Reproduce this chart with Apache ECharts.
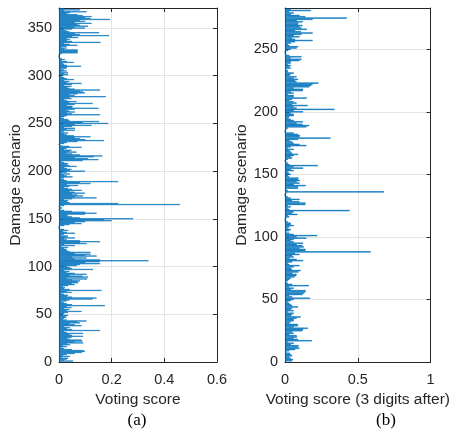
<!DOCTYPE html>
<html><head><meta charset="utf-8">
<script src="https://cdn.jsdelivr.net/npm/echarts@6/dist/echarts.min.js"></script>
<style>html,body{margin:0;padding:0;background:#fff}#c{width:453px;height:433px}</style>
</head><body><div id="c"></div>
<script>
// Panel (a): voting score for damage scenarios 1..370
const scoresA = [
0.054,0.02,0.03,0.035,0.01,0.042,0.015,0.03,0.06,0.086,
0.099,0.095,0.05,0.02,0.01,0.03,0.015,0.042,0.03,0.092,
0.06,0.089,0.085,0.04,0.03,0.048,0.092,0.05,0.04,0.092,
0.03,0.02,0.156,0.05,0.03,0.042,0.02,0.086,0.06,0.04,
0.08,0.07,0.105,0.03,0.015,0.02,0.029,0.025,0.035,0.01,
0.02,0.035,0.086,0.03,0.04,0.02,0.048,0.03,0.175,0.05,
0.03,0.02,0.01,0.029,0.04,0.128,0.143,0.05,0.03,0.035,
0.02,0.01,0.048,0.03,0.162,0.04,0.02,0.023,0.015,0.035,
0.06,0.05,0.073,0.07,0.08,0.05,0.107,0.03,0.111,0.09,
0.04,0.105,0.06,0.029,0.04,0.02,0.13,0.05,0.042,0.03,
0.067,0.08,0.156,0.1,0.155,0.34,0.156,0.06,0.105,0.05,
0.143,0.1,0.12,0.06,0.12,0.04,0.03,0.029,0.02,0.035,
0.01,0.061,0.02,0.105,0.08,0.156,0.08,0.03,0.02,0.061,
0.03,0.035,0.01,0.02,0.061,0.03,0.015,0.035,0.02,0,
0,0,0.02,0.04,0.086,0.06,0.1,0.2,0.17,0.282,
0.08,0.05,0.035,0.03,0.099,0.143,0.1,0.05,0.02,0,
0.01,0.01,0,0.02,0.46,0.225,0.04,0.03,0.035,0.02,
0.05,0.143,0.06,0.092,0.07,0.05,0.099,0.06,0.04,0.086,
0.05,0.035,0.02,0.04,0.073,0.03,0.12,0.08,0.225,0.03,
0.02,0.01,0.02,0.052,0.03,0.02,0.042,0.01,0.03,0.099,
0.04,0.048,0.03,0.02,0.067,0.04,0.03,0.035,0.02,0.01,
0.09,0.15,0.11,0.06,0.133,0.165,0.08,0.05,0.03,0.067,
0.04,0.048,0.02,0.03,0.086,0.04,0.01,0,0.02,0.03,
0.07,0.171,0.1,0.08,0.06,0.12,0.057,0.03,0.02,0.035,
0.01,0.02,0.061,0.03,0.061,0.02,0.05,0.124,0.06,0.187,
0.09,0.153,0.04,0.035,0.02,0.01,0.02,0.03,0.156,0.05,
0.03,0.061,0.04,0.03,0.06,0.15,0.05,0.052,0.03,0.06,
0.128,0.04,0.067,0.03,0.02,0.048,0.04,0.178,0.06,0.04,
0.07,0.099,0.092,0.08,0.156,0.06,0.04,0.03,0.048,0.02,
0.05,0.086,0.03,0.04,0.02,0.057,0.03,0.02,0.01,0,
0.035,0.02,0.035,0.01,0.03,0.02,0.01,0.029,0.03,0.084,
0.03,0.02,0.015,0.057,0.03,0.01,0.023,0.01,0,0,
0,0,0.01,0.071,0.071,0.071,0.071,0.02,0.029,0.01,
0.03,0.07,0.04,0.02,0.158,0.05,0.03,0.042,0.03,0.073,
0.05,0.191,0.08,0.06,0.153,0.04,0.03,0.02,0.05,0.099,
0.06,0.111,0.08,0.07,0.124,0.06,0.1,0.08,0.194,0.12,
0.1,0.124,0.09,0.07,0.03,0.042,0.105,0.02,0.08,0.02
];
// Panel (b): voting score (3 digits after) for damage scenarios 1..282
const scoresB = [
0.05,0.055,0.04,0.03,0.05,0.04,0.035,0.01,0.03,0.07,
0.1,0.09,0.095,0.04,0.06,0.02,0.185,0.09,0.06,0.083,
0.08,0.03,0.06,0.05,0.12,0.125,0.157,0.06,0.09,0.087,
0.03,0.04,0.06,0.06,0.08,0.108,0.04,0.05,0.06,0.02,
0.06,0.04,0.05,0.09,0.05,0.04,0.03,0.02,0.04,0.06,
0.172,0.05,0.03,0.12,0.13,0.14,0.143,0.04,0.06,0.03,
0.164,0.05,0.02,0.01,0.02,0.03,0.04,0.065,0.078,0.08,
0.05,0.092,0.108,0.05,0.04,0.06,0.1,0.03,0.02,0.05,
0.125,0.08,0.03,0.06,0.05,0.1,0.07,0.588,0.14,0.142,
0.1,0.13,0.12,0.08,0.125,0.06,0.04,0.06,0.147,0.08,
0.222,0.06,0.03,0.01,0.03,0.04,0.02,0.03,0.06,0.04,
0.04,0.02,0,0,0.01,0.03,0.02,0.086,0.05,0.06,
0.444,0.03,0.02,0.04,0.02,0.14,0.142,0.1,0.05,0.1,
0.04,0.02,0,0,0.01,0.68,0.02,0.01,0.09,0.09,
0.142,0.06,0.1,0.08,0.103,0.09,0.093,0.03,0.02,0.04,
0.03,0.02,0.06,0.04,0.125,0.06,0.225,0.03,0.02,0.01,
0,0.02,0.05,0.04,0.06,0.09,0.05,0.04,0.03,0.06,
0.02,0.04,0.147,0.1,0.06,0.05,0.03,0.09,0.313,0.1,
0.103,0.09,0.06,0,0,0.01,0.02,0.147,0.167,0.12,
0.08,0.124,0.06,0.04,0.025,0.03,0.06,0.06,0.04,0.124,
0.06,0.34,0.08,0.06,0.157,0.05,0.08,0.06,0.03,0.05,
0.15,0.06,0.06,0.02,0.06,0.04,0.124,0.124,0.06,0.167,
0.18,0.19,0.23,0.08,0.07,0.09,0.06,0.08,0.03,0.04,
0.06,0.02,0.02,0.01,0.04,0.03,0.04,0.02,0.04,0.04,
0.1,0.114,0.04,0.114,0.03,0.01,0,0,0.02,0.04,
0.08,0.09,0.03,0.02,0.04,0.07,0.19,0.07,0.05,0.1,
0.06,0.114,0.19,0.11,0.07,0.15,0.114,0.1,0.12,0.09,
0.092,0.124,0.08,0.19,0.425,0.14,0.1,0.04,0.06,0.03,
0.178,0.04
];
const xTicksA = [0, 0.2, 0.4, 0.6];
const xTicksB = [0, 0.5, 1];
const yStep = 50;
const xLabelA = 'Voting score';
const xLabelB = 'Voting score (3 digits after)';
const yLabel = 'Damage scenario';
const panelA = '(a)';
const panelB = '(b)';

const FONT = '"Liberation Sans", Arial, Helvetica, sans-serif';
const SERIF = '"Liberation Serif", "Times New Roman", serif';
const AX = '#262626';
const GRID = '#e4e4e4';
const BLUE = '#0072BD';

function cats(n) { const c = []; for (let i = 0; i <= n + 1; i++) c.push(String(i)); return c; }
function padded(arr) { return [null].concat(arr).concat([null]); }

function xPair(g, ticks, name) {
  const mn = ticks[0], mx = ticks[ticks.length - 1], iv = ticks[1] - ticks[0];
  const base = {
    gridIndex: g, type: 'value', min: mn, max: mx, interval: iv,
    axisLine: { show: true, onZero: false, lineStyle: { color: AX, width: 1 } },
    axisTick: { show: true, inside: true, length: 4, lineStyle: { color: AX } }
  };
  return [
    Object.assign({}, base, {
      position: 'bottom',
      axisLabel: { show: true, color: AX, fontSize: 14.5, fontFamily: FONT, margin: 10 },
      splitLine: { show: true, lineStyle: { color: GRID, width: 1 } },
      name: name, nameLocation: 'middle', nameGap: 28,
      nameTextStyle: { color: AX, fontSize: 15.5, fontFamily: FONT }
    }),
    Object.assign({}, base, {
      position: 'top', axisLabel: { show: false }, splitLine: { show: false }
    })
  ];
}
function yTriple(g, n) {
  const base = {
    gridIndex: g, type: 'value', min: 0, max: n + 1, interval: yStep,
    axisLine: { show: true, onZero: false, lineStyle: { color: AX, width: 1 } },
    axisTick: { show: true, inside: true, length: 4, lineStyle: { color: AX } }
  };
  return [
    { gridIndex: g, type: 'category', data: cats(n), boundaryGap: false, show: false },
    Object.assign({}, base, {
      position: 'left',
      axisLabel: { show: true, color: AX, fontSize: 14.5, fontFamily: FONT, margin: 7, showMaxLabel: false },
      splitLine: { show: true, lineStyle: { color: GRID, width: 1 } },
      name: yLabel, nameLocation: 'middle', nameGap: 34, nameRotate: 90,
      nameTextStyle: { color: AX, fontSize: 15.5, fontFamily: FONT }
    }),
    Object.assign({}, base, {
      position: 'right', axisLabel: { show: false }, splitLine: { show: false }
    })
  ];
}

const chart = echarts.init(document.getElementById('c'), null, { renderer: 'canvas' });
chart.setOption({
  animation: false,
  backgroundColor: '#fff',
  grid: [
    { left: 59, top: 8, width: 158, height: 354 },
    { left: 285, top: 8, width: 155, height: 354 }
  ],
  xAxis: xPair(0, xTicksA, xLabelA).concat(xPair(1, xTicksB, xLabelB)),
  yAxis: yTriple(0, scoresA.length).concat(yTriple(1, scoresB.length)),
  series: [
    { type: 'bar', xAxisIndex: 0, yAxisIndex: 0, data: padded(scoresA),
      itemStyle: { color: BLUE, borderColor: BLUE, borderWidth: 0.5 }, barCategoryGap: '0%', silent: true },
    { type: 'bar', xAxisIndex: 2, yAxisIndex: 3, data: padded(scoresB),
      itemStyle: { color: BLUE, borderColor: BLUE, borderWidth: 0.5 }, barCategoryGap: '0%', silent: true }
  ],
  graphic: [
    { type: 'text', x: 137, y: 421, style: { text: panelA, fontSize: 17, fontFamily: SERIF, fill: '#000', align: 'center', verticalAlign: 'middle' } },
    { type: 'text', x: 386, y: 421, style: { text: panelB, fontSize: 17, fontFamily: SERIF, fill: '#000', align: 'center', verticalAlign: 'middle' } }
  ]
});
</script>
</body></html>
